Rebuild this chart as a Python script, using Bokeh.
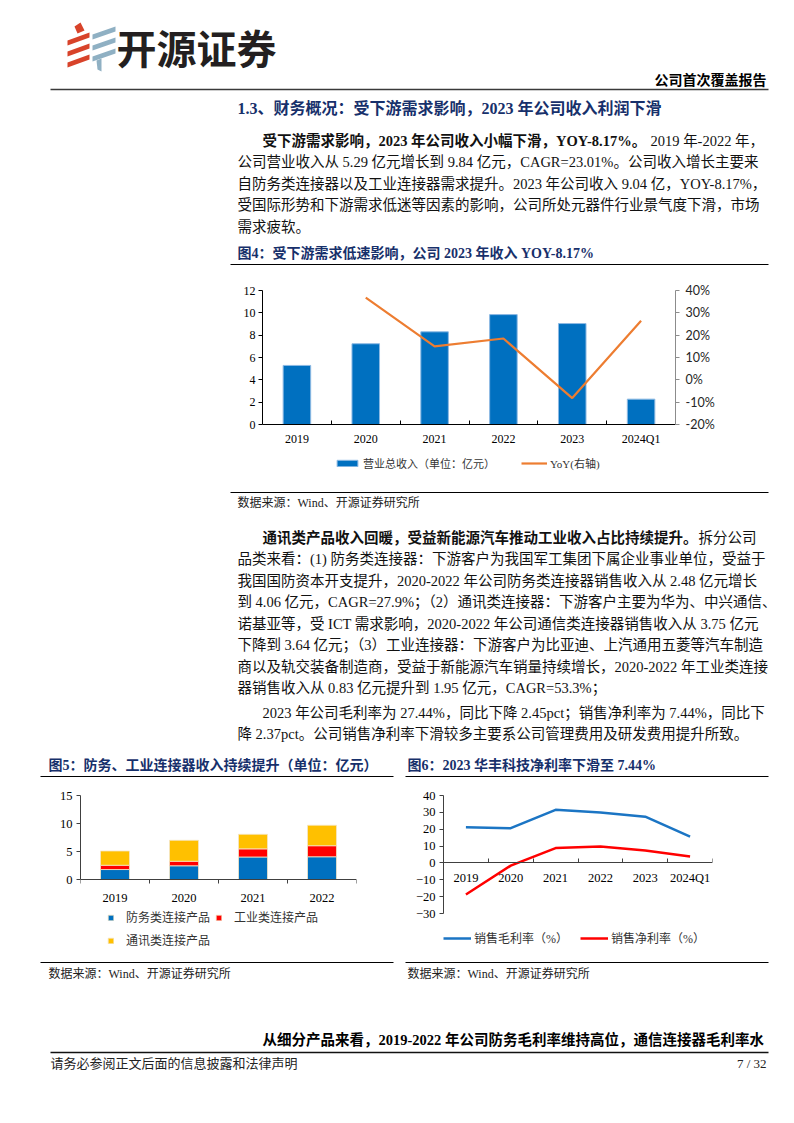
from bokeh.plotting import figure
from bokeh.models import (Range1d, LinearAxis, FixedTicker, PrintfTickFormatter,
                          Legend, LegendItem, Spacer)
from bokeh.layouts import column, row
from bokeh.core.properties import value
from bokeh.embed import file_html
from bokeh.resources import INLINE

# ---------------- data ----------------
years_rev = ["2019", "2020", "2021", "2022", "2023", "2024Q1"]
revenue = [5.29, 7.23, 8.30, 9.84, 9.04, 2.27]
yoy = [float("nan"), 36.8, 15.0, 18.5, -8.17, 26.5]

years_seg = ["2019", "2020", "2021", "2022"]
defense = [1.78, 2.45, 4.02, 4.06]
industrial = [0.76, 0.81, 1.45, 1.97]
telecom = [2.55, 3.74, 2.60, 3.66]

years_margin = ["2019", "2020", "2021", "2022", "2023", "2024Q1"]
gross_margin = [21.1, 20.6, 31.5, 29.9, 27.44, 15.6]
net_margin = [-18.7, -1.6, 8.8, 9.8, 7.44, 3.8]

rev_ticks = [0, 2, 4, 6, 8, 10, 12]
yoy_ticks = [-20, -10, 0, 10, 20, 30, 40]
seg_ticks = [0, 5, 10, 15]
margin_ticks = [-30, -20, -10, 0, 10, 20, 30, 40]

# ---------------- styles ----------------
FONT = "Liberation Serif, Noto Sans CJK SC"
CJK = "Noto Sans CJK SC"
NAVY = "#17306B"
INK = "#111111"
BODY = 14.5


def tfig(y0, h):
    p = figure(width=794, height=h, x_range=Range1d(0, 794), y_range=Range1d(y0 + h, y0),
               x_axis_type=None, y_axis_type=None, min_border=0, toolbar_location=None,
               output_backend="svg")
    p.outline_line_color = None
    p.background_fill_color = "white"
    p.border_fill_color = "white"
    return p


def T(p, x, y, s, size=BODY, bold=False, color=INK, align="left", font=FONT):
    p.text(x=[x], y=[y], text=[s], text_font=value(font), text_font_size=f"{size}px",
           text_font_style="bold" if bold else "normal", text_color=color,
           text_align=align, text_baseline="middle")


def L(p, x0, y0, x1, y1, color="#000000", w=1.0):
    p.segment(x0=[x0], y0=[y0], x1=[x1], y1=[y1], line_color=color, line_width=w)


def extended_range(lo, hi, px_axis, px_extra):
    # axis [lo, hi] spans px_axis pixels; frame continues px_extra pixels below lo
    return Range1d(lo - (hi - lo) * px_extra / px_axis, hi)


def cfig(w, h, xr, yr, left, right, top, bottom):
    p = figure(width=w, height=h, x_range=xr, y_range=yr, x_axis_type=None, y_axis_type=None,
               toolbar_location=None, output_backend="svg",
               min_border_left=left, min_border_right=right, min_border_top=top, min_border_bottom=bottom)
    p.outline_line_color = None
    return p


def style_axis(a, size="12px", font=FONT, color="#000000", line="#000000"):
    a.major_label_text_font = font
    a.major_label_text_font_size = size
    a.major_label_text_color = color
    a.axis_line_color = line
    a.major_tick_line_color = line
    a.minor_tick_line_color = line


def cat_axis(cats, standoff, tick_in, tick_out, size, line):
    idx = list(range(len(cats)))
    a = LinearAxis(ticker=FixedTicker(ticks=idx, minor_ticks=[i - 0.5 for i in idx] + [len(idx) - 0.5]),
                   major_label_overrides={i: s for i, s in enumerate(cats)}, fixed_location=0)
    style_axis(a, size=size, line=line)
    a.major_tick_out = 0; a.major_tick_in = 0
    a.minor_tick_in = tick_in; a.minor_tick_out = tick_out
    a.major_label_standoff = standoff
    return a


def val_axis(ticks, size, line, standoff=4, **kw):
    a = LinearAxis(ticker=FixedTicker(ticks=ticks), bounds=(min(ticks), max(ticks)), **kw)
    style_axis(a, size=size, line=line)
    a.major_tick_out = 4; a.major_tick_in = 0; a.minor_tick_line_color = None
    a.major_label_standoff = standoff
    return a


def legend(items, loc, **kw):
    base = dict(orientation="horizontal", location=loc, padding=0, margin=0,
                border_line_color=None, background_fill_alpha=0,
                label_text_font=FONT, label_text_color="#333333")
    base.update(kw)
    return Legend(items=items, **base)


# ---------------- block A : header + paragraph 1 ----------------
A = tfig(0, 280)
red_xs, red_ys, blue_xs, blue_ys = [], [], [], []
for yy in (34, 45, 56):
    red_xs.append([67, 89, 89, 67])
    red_ys.append([yy + 6, yy - 2, yy + 3, yy + 11])
for yy in (28, 39, 50):
    blue_xs.append([92, 115, 115, 92])
    blue_ys.append([yy + 6, yy - 2, yy + 3, yy + 11])
A.patches(red_xs, red_ys, fill_color="#D8432A", line_color=None)
A.patches(blue_xs, blue_ys, fill_color="#8FB0C3", line_color=None)
A.patches([[74, 80, 84, 77]], [[26, 22, 30, 33]], fill_color="#D8432A", line_color=None)
A.patches([[96, 101, 101, 97]], [[60, 58, 71, 69]], fill_color="#8FB0C3", line_color=None)
T(A, 116, 46, "开源证券", size=40, bold=True, color="#231F20", font=CJK)
T(A, 766, 80, "公司首次覆盖报告", size=14, bold=True, color="#000000", align="right")
L(A, 50, 89, 768, 89, color="#3A3A3A", w=1.6)
T(A, 237, 108, "1.3、财务概况：受下游需求影响，2023 年公司收入利润下滑", size=16, bold=True, color=NAVY)

T(A, 262, 140, "受下游需求影响，2023 年公司收入小幅下滑，YOY-8.17%。", bold=True)
T(A, 650, 140, "2019 年-2022 年，")
p1 = ["公司营业收入从 5.29 亿元增长到 9.84 亿元，CAGR=23.01%。公司收入增长主要来",
      "自防务类连接器以及工业连接器需求提升。2023 年公司收入 9.04 亿，YOY-8.17%，",
      "受国际形势和下游需求低迷等因素的影响，公司所处元器件行业景气度下滑，市场",
      "需求疲软。"]
for i, s in enumerate(p1):
    T(A, 237, 161.5 + 21.5 * i, s)
T(A, 237, 253, "图4：受下游需求低速影响，公司 2023 年收入 YOY-8.17%", size=14, bold=True, color=NAVY)
L(A, 230, 264, 768, 264, w=1.0)

# ---------------- chart 1 ----------------
# frame: top 290, value-axis bottom 424, frame bottom 480 (legend area inside the frame)
c1 = cfig(538, 208, Range1d(-0.5, len(years_rev) - 0.5), extended_range(0, 12, 134, 56), 32, 93, 10, 8)
c1.extra_y_ranges = {"yoy": extended_range(-20, 40, 134, 56)}
x1 = list(range(len(years_rev)))
bars = c1.vbar(x=x1, top=revenue, width=0.4, fill_color="#0070C0", line_color="#8DB9E3", line_width=1)
yl = c1.line(x=x1, y=yoy, y_range_name="yoy", line_color="#ED7D31", line_width=2.2)
c1.add_layout(cat_axis(years_rev, 7, 4, 0, "12px", "#000000"), "below")
c1.add_layout(val_axis(rev_ticks, "12px", "#000000", standoff=3), "left")
ay2 = val_axis(yoy_ticks, "12.5px", "#8C8C8C", standoff=6, y_range_name="yoy",
               formatter=PrintfTickFormatter(format="%d%%"))
ay2.major_label_text_font = "Lato"; ay2.major_label_text_color = "#262626"
c1.add_layout(ay2, "right")
c1.add_layout(legend([LegendItem(label="营业总收入（单位：亿元）", renderers=[bars]),
                      LegendItem(label="YoY(右轴)", renderers=[yl])], (72, 9),
                     glyph_width=26, glyph_height=8, label_height=14, label_standoff=3, spacing=26,
                     label_text_font_size="11px"))

# ---------------- block B : paragraphs 2-3 ----------------
B = tfig(488, 292)
L(B, 230, 492, 768, 492, w=1.0)
T(B, 237, 502, "数据来源：Wind、开源证券研究所", size=12, color="#222222")
T(B, 262, 537, "通讯类产品收入回暖，受益新能源汽车推动工业收入占比持续提升。", bold=True)
T(B, 262 + 30 * BODY + 1, 537, "拆分公司")
p2 = ["品类来看：(1) 防务类连接器：下游客户为我国军工集团下属企业事业单位，受益于",
      "我国国防资本开支提升，2020-2022 年公司防务类连接器销售收入从 2.48 亿元增长",
      "到 4.06 亿元，CAGR=27.9%；（2）通讯类连接器：下游客户主要为华为、中兴通信、",
      "诺基亚等，受 ICT 需求影响，2020-2022 年公司通信类连接器销售收入从 3.75 亿元",
      "下降到 3.64 亿元；（3）工业连接器：下游客户为比亚迪、上汽通用五菱等汽车制造",
      "商以及轨交装备制造商，受益于新能源汽车销量持续增长，2020-2022 年工业类连接",
      "器销售收入从 0.83 亿元提升到 1.95 亿元，CAGR=53.3%；"]
for i, s in enumerate(p2):
    T(B, 237, 558.5 + 21.5 * i, s)
T(B, 262, 712, "2023 年公司毛利率为 27.44%，同比下降 2.45pct；销售净利率为 7.44%，同比下")
T(B, 237, 733.5, "降 2.37pct。公司销售净利率下滑较多主要系公司管理费用及研发费用提升所致。")
T(B, 48, 765, "图5：防务、工业连接器收入持续提升（单位：亿元）", size=14, bold=True, color=NAVY)
T(B, 407, 765, "图6：2023 华丰科技净利率下滑至 7.44%", size=14, bold=True, color=NAVY)
L(B, 40, 776, 393, 776, w=1.0)
L(B, 405, 776, 768, 776, w=1.0)

# ---------------- chart 5 ----------------
# frame: top 795, zero line 879, frame bottom 955
c5 = cfig(353, 178, Range1d(-0.5, len(years_seg) - 0.5), extended_range(0, 15, 84, 76), 40, 37, 15, 3)
src5 = {"x": list(range(len(years_seg))), "防务类连接产品": defense, "工业类连接产品": industrial,
        "通讯类连接产品": telecom}
stack = c5.vbar_stack(["防务类连接产品", "工业类连接产品", "通讯类连接产品"], x="x", width=0.42, source=src5,
                      color=["#0070C0", "#FF0000", "#FFC000"], line_color="#F4E6C6", line_width=0.8)
c5.add_layout(cat_axis(years_seg, 10, 0, 4, "12.5px", "#404040"), "below")
c5.add_layout(val_axis(seg_ticks, "12.5px", "#404040"), "left")
c5.add_layout(legend([LegendItem(label="防务类连接产品", renderers=[stack[0]]),
                      LegendItem(label="工业类连接产品", renderers=[stack[1]]),
                      LegendItem(label="通讯类连接产品", renderers=[stack[2]])], (27, 6),
                     ncols=2, glyph_width=7, glyph_height=7, label_height=15, label_standoff=12,
                     spacing=5, label_text_font_size="12px"))

# ---------------- chart 6 ----------------
# frame: top 795, -30 at 913, frame bottom 955
c6 = cfig(363, 178, Range1d(-0.5, len(years_margin) - 0.5), extended_range(-30, 40, 118, 42), 38, 56, 15, 3)
x6 = list(range(len(years_margin)))
g_line = c6.line(x=x6, y=gross_margin, line_color="#1B75C4", line_width=2.5)
n_line = c6.line(x=x6, y=net_margin, line_color="#FF0000", line_width=2.5)
c6.add_layout(cat_axis(years_margin, 8, 4, 0, "12.5px", "#404040"), "below")
c6.add_layout(val_axis(margin_ticks, "12.5px", "#404040"), "left")
c6.add_layout(legend([LegendItem(label="销售毛利率（%）", renderers=[g_line]),
                      LegendItem(label="销售净利率（%）", renderers=[n_line])], (0, 8),
                     glyph_width=28, glyph_height=8, label_height=14, label_standoff=3, spacing=12,
                     label_text_font_size="12px"))

# ---------------- block C : footer ----------------
C = tfig(958, 165)
L(C, 40, 962, 393, 962, w=1.0)
L(C, 405, 962, 768, 962, w=1.0)
T(C, 48, 973, "数据来源：Wind、开源证券研究所", size=12, color="#222222")
T(C, 407, 973, "数据来源：Wind、开源证券研究所", size=12, color="#222222")
T(C, 262, 1039, "从细分产品来看，2019-2022 年公司防务毛利率维持高位，通信连接器毛利率水", bold=True, color="#000000")
L(C, 50, 1052, 768, 1052, color="#111111", w=1.5)
T(C, 50, 1063, "请务必参阅正文后面的信息披露和法律声明", size=13, color="#222222")
T(C, 766, 1063, "7 / 32", size=13, color="#222222", align="right")

page = column(
    A,
    row(Spacer(width=230, height=208), c1, Spacer(width=26, height=208)),
    B,
    row(Spacer(width=40, height=178), c5, Spacer(width=12, height=178), c6, Spacer(width=26, height=178)),
    C,
)

open("out.html", "w").write(file_html(page, INLINE))
